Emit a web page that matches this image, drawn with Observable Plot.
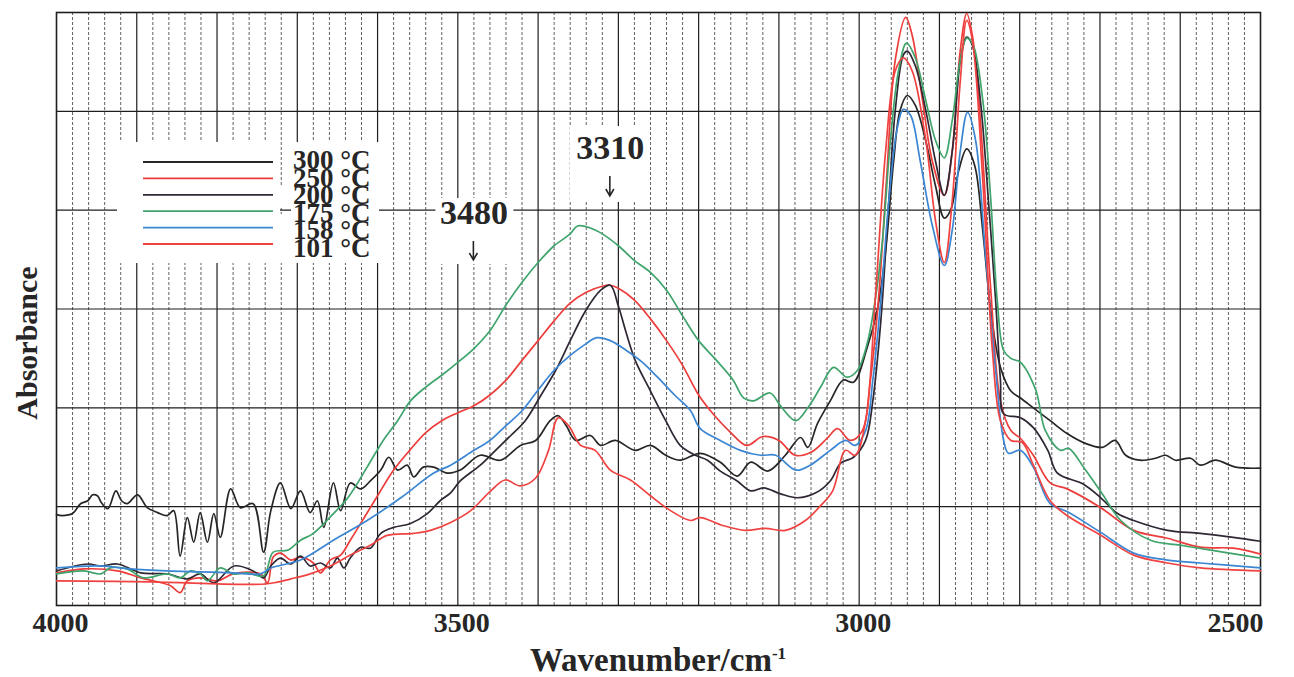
<!DOCTYPE html>
<html>
<head>
<meta charset="utf-8">
<script src="https://cdn.jsdelivr.net/npm/d3@7"></script>
<script src="https://cdn.jsdelivr.net/npm/@observablehq/plot@0.6"></script>
<style>
  body { margin: 0; background: #fff; }
  #chart svg { display: block; }
</style>
</head>
<body>
<div id="chart"></div>
<script>
// IR spectra of the sample after heating at different temperatures.
// Each series: [wavenumber (cm-1), absorbance (arbitrary units)].
const temperatures = ["300", "250", "200", "175", "158", "101"];
const colors = ["#262626", "#ec3d3b", "#2f2734", "#3fa46c", "#3b86d3", "#f04341"];

const spectrum300 = [
  [4000,92],[3993,91],[3980,93],[3970,103],[3961,106],[3955,112],[3949,111],[3944,104],[3936,98],
  [3926,116],[3919,106],[3912,103],[3899,112],[3887,99],[3874,94],[3862,91],[3854,96],[3846,50],
  [3837,89],[3829,64],[3821,94],[3812,64],[3804,93],[3796,69],[3783,118],[3771,99],[3755,103],
  [3742,54],[3733,96],[3721,124],[3708,98],[3696,116],[3684,94],[3675,106],[3667,79],[3655,124],
  [3646,96],[3634,124],[3621,118],[3609,126],[3596,137],[3586,150],[3575,137],[3563,142],[3555,130],
  [3543,140],[3530,140],[3513,134],[3497,137],[3472,152],[3447,147],[3422,162],[3403,167],[3385,187],
  [3375,192],[3365,182],[3353,167],[3335,172],[3322,162],[3304,167],[3279,157],[3260,162],[3241,152],
  [3223,147],[3198,154],[3173,145],[3152,131],[3135,145],[3114,136],[3092,152],[3073,170],[3064,160],
  [3052,184],[3036,207],[3020,228],[3007,226],[2990,261],[2977,301],[2967,359],[2957,450],[2949,501],
  [2940,516],[2930,506],[2917,470],[2905,425],[2894,392],[2886,400],[2876,440],[2866,462],[2856,445],
  [2846,379],[2836,298],[2824,241],[2811,217],[2799,210],[2783,200],[2762,187],[2741,174],[2718,164],
  [2697,160],[2681,167],[2668,152],[2650,147],[2631,149],[2618,152],[2606,147],[2587,149],[2575,142],
  [2556,147],[2531,140],[2500,139]
];

const spectrum250 = [
  [4000,33],[3966,37],[3924,35],[3895,28],[3858,20],[3846,13],[3837,25],[3821,28],[3799,25],[3780,32],
  [3746,32],[3737,23],[3730,49],[3721,53],[3708,46],[3696,49],[3680,43],[3671,33],[3659,46],[3646,51],
  [3634,66],[3615,91],[3600,111],[3580,137],[3560,157],[3540,175],[3520,187],[3500,195],[3480,202],
  [3460,213],[3440,228],[3420,248],[3400,268],[3380,288],[3360,306],[3340,317],[3320,323],[3310,324],
  [3300,321],[3280,309],[3260,290],[3240,268],[3220,243],[3200,213],[3180,192],[3160,175],[3140,162],
  [3120,171],[3100,167],[3080,152],[3060,155],[3040,169],[3027,179],[3011,167],[2996,177],[2986,228],
  [2976,309],[2966,430],[2955,552],[2942,595],[2934,577],[2921,511],[2909,450],[2894,415],[2884,460],
  [2874,562],[2866,599],[2859,577],[2849,491],[2836,319],[2824,207],[2811,177],[2799,169],[2783,152],
  [2762,124],[2741,118],[2699,99],[2658,76],[2616,68],[2575,59],[2534,58],[2500,52]
];

const spectrum200 = [
  [4000,35],[3961,42],[3945,40],[3924,42],[3895,33],[3862,32],[3837,27],[3821,32],[3804,23],[3779,40],
  [3755,35],[3742,28],[3733,40],[3721,48],[3708,42],[3696,50],[3684,40],[3671,43],[3659,38],[3650,48],
  [3642,38],[3634,48],[3621,59],[3609,58],[3596,73],[3580,79],[3559,83],[3538,93],[3522,106],[3509,114],
  [3497,126],[3472,142],[3453,157],[3434,172],[3416,187],[3397,212],[3378,238],[3360,268],[3341,298],
  [3322,319],[3310,324],[3300,303],[3291,278],[3279,248],[3260,217],[3241,187],[3223,162],[3204,152],
  [3189,147],[3173,136],[3152,126],[3135,116],[3119,119],[3098,113],[3077,109],[3054,114],[3036,126],
  [3023,144],[3007,150],[2992,167],[2983,207],[2973,288],[2963,410],[2955,501],[2945,557],[2940,561],
  [2930,546],[2917,501],[2905,450],[2894,415],[2884,460],[2874,551],[2866,575],[2859,567],[2849,511],
  [2839,410],[2830,309],[2824,228],[2820,194],[2799,190],[2783,180],[2765,157],[2753,134],[2721,123],
  [2699,109],[2678,93],[2658,86],[2616,76],[2575,73],[2534,69],[2500,65]
];

const spectrum175 = [
  [4000,32],[3966,35],[3945,32],[3933,38],[3912,37],[3892,28],[3862,32],[3846,28],[3833,35],[3821,32],
  [3812,25],[3796,38],[3780,32],[3762,33],[3742,30],[3730,54],[3712,56],[3696,66],[3680,73],[3655,93],
  [3637,109],[3613,140],[3593,167],[3575,187],[3559,207],[3540,221],[3520,233],[3500,246],[3480,260],
  [3460,278],[3440,304],[3420,327],[3400,347],[3380,364],[3360,376],[3351,384],[3335,382],[3320,376],
  [3300,364],[3280,349],[3260,337],[3240,319],[3220,293],[3200,268],[3180,250],[3157,228],[3144,210],
  [3132,207],[3111,215],[3098,202],[3079,187],[3064,200],[3048,221],[3032,241],[3015,231],[3002,238],
  [2990,265],[2980,309],[2971,369],[2961,471],[2951,541],[2941,569],[2930,554],[2917,511],[2905,471],
  [2894,453],[2884,491],[2874,552],[2866,574],[2858,567],[2846,511],[2836,410],[2828,309],[2820,258],
  [2811,250],[2799,246],[2780,218],[2768,177],[2749,157],[2739,159],[2718,137],[2698,114],[2674,86],
  [2637,66],[2600,61],[2562,56],[2500,48]
];

const spectrum158 = [
  [4000,38],[3945,40],[3908,37],[3862,35],[3821,34],[3780,33],[3746,32],[3733,38],[3696,46],[3655,66],
  [3613,86],[3571,109],[3530,134],[3509,142],[3480,157],[3460,167],[3440,182],[3420,197],[3400,218],
  [3380,238],[3360,253],[3340,265],[3327,271],[3310,268],[3290,258],[3270,246],[3250,230],[3230,213],
  [3210,197],[3198,179],[3173,167],[3148,157],[3123,152],[3104,152],[3079,137],[3061,142],[3036,157],
  [3017,167],[3005,162],[2992,177],[2983,228],[2973,309],[2963,410],[2953,481],[2945,502],[2936,496],
  [2924,450],[2909,385],[2894,344],[2884,380],[2874,460],[2865,499],[2855,471],[2843,359],[2830,238],
  [2820,167],[2814,154],[2799,157],[2783,140],[2762,103],[2741,95],[2699,74],[2658,53],[2616,46],
  [2575,43],[2500,38]
];

const spectrum101 = [
  [4000,25],[3883,24],[3737,22],[3708,27],[3684,32],[3659,40],[3634,51],[3609,61],[3588,71],[3555,73],
  [3534,76],[3509,84],[3484,96],[3459,116],[3441,127],[3422,121],[3403,129],[3387,157],[3375,190],
  [3362,182],[3347,162],[3329,157],[3310,137],[3285,127],[3260,111],[3235,96],[3210,86],[3198,89],
  [3170,81],[3142,76],[3117,78],[3092,76],[3067,86],[3048,101],[3033,116],[3017,157],[3005,152],
  [2992,187],[2980,309],[2967,460],[2955,541],[2945,554],[2934,541],[2917,471],[2905,390],[2894,347],
  [2884,410],[2874,531],[2866,592],[2859,572],[2846,430],[2834,258],[2824,187],[2811,167],[2797,165],
  [2783,142],[2762,106],[2741,91],[2699,71],[2658,51],[2616,43],[2575,38],[2500,35]
];

const xTickLabels = [4000, 3500, 3000, 2500];
const peakLabels = [3480, 3310];
const absorbanceGrid = [100, 200, 300, 400, 500];

const series = [spectrum300, spectrum250, spectrum200, spectrum175, spectrum158, spectrum101];
const rows = series.flatMap((s, i) => s.map(([wn, a]) => ({wn, a, t: temperatures[i]})));

const minorX = d3.range(3980, 2500, -20).filter(d => d % 100 !== 0);
const majorX = d3.range(3900, 2500, -100);

const serif = "'Liberation Serif', 'Times New Roman', serif";
const ink = "#262626";

const plot = Plot.plot({
  width: 1294,
  height: 677,
  marginLeft: 56,
  marginRight: 34,
  marginTop: 12,
  marginBottom: 72,
  x: {domain: [4000, 2500], axis: null},
  y: {domain: [0, 600], axis: null},
  color: {domain: temperatures, range: colors},
  style: {fontFamily: serif, background: "#fff"},
  marks: [
    Plot.ruleX(minorX, {stroke: "#444", strokeWidth: 1, strokeDasharray: "3,2", strokeOpacity: 0.85}),
    Plot.ruleX(majorX, {stroke: "#1e1e1e", strokeWidth: 1.2}),
    Plot.ruleY(absorbanceGrid, {
      stroke: "#1e1e1e",
      strokeWidth: 1.2,
      strokeDasharray: d => (d % 200 === 0 ? null : "6,2,2,2")
    }),
    Plot.frame({stroke: "#1e1e1e", strokeWidth: 1.6}),
    Plot.line(rows, {
      x: "wn", y: "a", z: "t", stroke: "t",
      curve: "catmull-rom", strokeWidth: 1.7, className: "curves"
    }),
    Plot.text(xTickLabels.slice(0, 3), {
      x: d => d, frameAnchor: "bottom", dy: 26, dx: 4,
      text: d => String(d), fontSize: 28, fontWeight: "bold", fill: ink
    }),
    Plot.text(xTickLabels.slice(3), {
      x: d => d, frameAnchor: "bottom", dy: 26, dx: 3, textAnchor: "end",
      text: d => String(d), fontSize: 28, fontWeight: "bold", fill: ink
    }),
    Plot.text(peakLabels.slice(0, 1), {
      x: d => d, frameAnchor: "top", dy: 211, lineAnchor: "bottom",
      text: d => String(d), fontSize: 34, fontWeight: "bold", fill: ink
    }),
    Plot.text(peakLabels.slice(1), {
      x: d => d, frameAnchor: "top", dy: 146, lineAnchor: "bottom",
      text: d => String(d), fontSize: 34, fontWeight: "bold", fill: ink
    })
  ]
});

document.getElementById("chart").appendChild(plot);

const svg = d3.select(plot);
const xs = plot.scale("x");

// White patches behind the legend (swatches and labels) and the peak labels, above the grid.
const patches = svg.insert("g", ".curves");
patches.append("rect").attr("x", 117).attr("y", 142).attr("width", 163).attr("height", 121).attr("fill", "#fff");
patches.append("rect").attr("x", 291).attr("y", 142).attr("width", 88).attr("height", 121).attr("fill", "#fff");
patches.append("rect").attr("x", 280).attr("y", 186).attr("width", 11).attr("height", 22).attr("fill", "#fff");
patches.append("rect").attr("x", 280).attr("y", 214).attr("width", 11).attr("height", 49).attr("fill", "#fff");
patches.append("rect").attr("x", xs.apply(peakLabels[0]) - 38).attr("y", 198).attr("width", 78).attr("height", 66).attr("fill", "#fff");
patches.append("rect").attr("x", xs.apply(peakLabels[1]) - 40).attr("y", 126).attr("width", 80).attr("height", 76).attr("fill", "#fff");

// Down arrows under the peak labels
[[peakLabels[0], 241, 260], [peakLabels[1], 176, 196]].forEach(([wn, y1, y2]) => {
  const x = xs.apply(wn);
  svg.append("path")
    .attr("d", `M${x},${y1}V${y2}M${x - 4},${y2 - 7}L${x},${y2}L${x + 4},${y2 - 7}`)
    .attr("fill", "none").attr("stroke", ink).attr("stroke-width", 1.6);
});

// Legend
const legend = svg.append("g").attr("text-anchor", "start");
temperatures.forEach((t, i) => {
  legend.append("line")
    .attr("x1", 143).attr("x2", 273)
    .attr("y1", 162 + i * 16.4).attr("y2", 162 + i * 16.4)
    .attr("stroke", colors[i]).attr("stroke-width", 1.8);
  legend.append("text")
    .attr("x", 293).attr("y", 169 + i * 17.6)
    .attr("text-anchor", "start")
    .attr("font-family", serif).attr("font-size", 27).attr("font-weight", "bold")
    .attr("fill", ink)
    .text(`${t} °C`);
});

// Axis titles
const title = svg.append("text")
  .attr("x", 658).attr("y", 671)
  .attr("text-anchor", "middle")
  .attr("font-family", serif).attr("font-size", 33).attr("font-weight", "bold")
  .attr("fill", ink);
title.append("tspan").text("Wavenumber/cm");
title.append("tspan").attr("font-size", 17).attr("dy", -12).text("-1");

svg.append("text")
  .attr("transform", "translate(37,343) rotate(-90)")
  .attr("text-anchor", "middle")
  .attr("font-family", serif).attr("font-size", 30).attr("font-weight", "bold")
  .attr("fill", ink)
  .text("Absorbance");
</script>
</body>
</html>
